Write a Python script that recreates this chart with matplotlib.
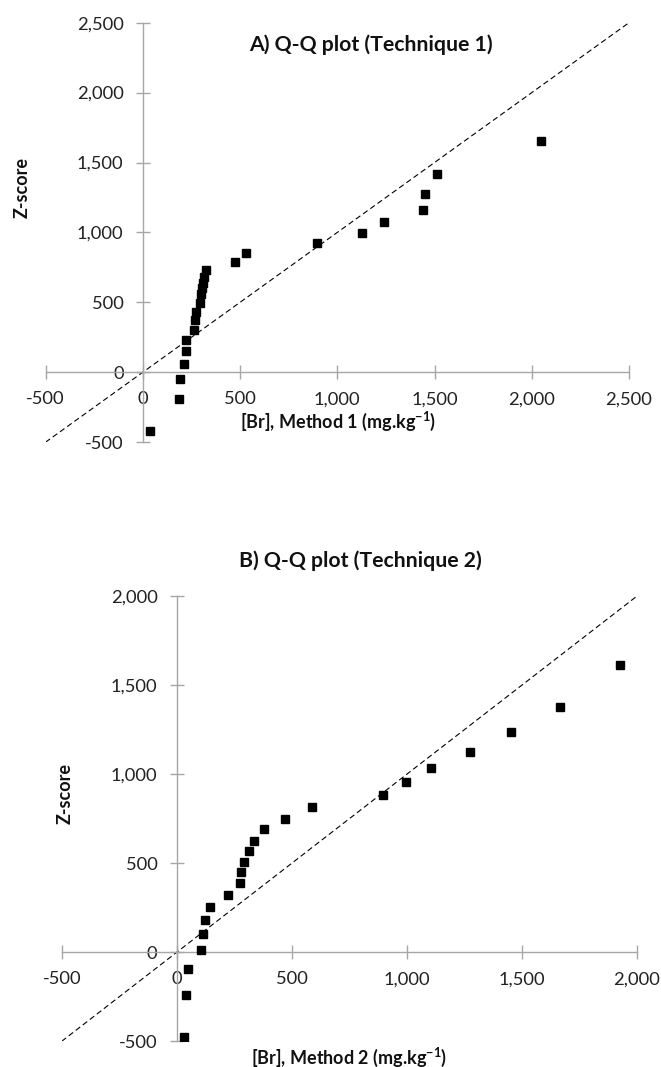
import matplotlib
matplotlib.use("Agg")
import matplotlib.pyplot as plt
from matplotlib.ticker import FuncFormatter, MultipleLocator

plt.rcParams['font.family'] = ['Lato', 'DejaVu Sans']
plt.rcParams['mathtext.fontset'] = 'custom'
plt.rcParams['mathtext.rm'] = 'Lato'
plt.rcParams['mathtext.bf'] = 'Lato:bold'

# Panel A data: [Br] Method 1 vs Z-score
a_x = [2046, 1512, 1452, 1443, 1239, 1128, 898, 531, 475,
       325, 315, 312, 306, 301, 293, 276, 271, 262,
       223, 221, 214, 192, 187, 38]
a_y = [1651, 1416, 1273, 1163, 1072, 995, 921, 856, 787,
       733, 681, 638, 602, 562, 495, 433, 371, 305,
       233, 150, 60, -48, -188, -421]

# Panel B data: [Br] Method 2 vs Z-score
b_x = [1926, 1665, 1454, 1276, 1107, 998, 899, 590, 471, 379, 338, 316,
       292, 278, 274, 221, 143, 125, 116, 105, 50, 42, 31]
b_y = [1614, 1378, 1235, 1125, 1037, 956, 885, 815, 750, 690, 628, 568,
       510, 450, 390, 324, 257, 182, 103, 11, -96, -242, -476]

a_lim = (-500, 2500)
b_lim = (-500, 2000)
tick_step = 500

title_a = "A) Q-Q plot (Technique 1)"
title_b = "B) Q-Q plot (Technique 2)"
xlabel_a = r"[Br], Method 1 (mg.kg$^{\mathbf{-1}}$)"
xlabel_b = r"[Br], Method 2 (mg.kg$^{\mathbf{-1}}$)"
ylabel = "Z-score"

W, H = 661, 1067
fig = plt.figure(figsize=(W / 100, H / 100), dpi=100)

def px_axes(left, right, top, bottom):
    return fig.add_axes([left / W, 1 - bottom / H, (right - left) / W, (bottom - top) / H])

axA = px_axes(45.5, 629, 22.7, 442.2)
axB = px_axes(61.7, 636.7, 596.3, 1041.3)

axis_color = '#A6A6A6'
fmt = FuncFormatter(lambda v, p: f"{v:,.0f}")

def style(ax, lim):
    ax.set_xlim(*lim)
    ax.set_ylim(*lim)
    ax.spines['top'].set_visible(False)
    ax.spines['right'].set_visible(False)
    for s in ('left', 'bottom'):
        ax.spines[s].set_position(('data', 0))
        ax.spines[s].set_color(axis_color)
        ax.spines[s].set_linewidth(1.0)
    ax.xaxis.set_major_locator(MultipleLocator(tick_step))
    ax.yaxis.set_major_locator(MultipleLocator(tick_step))
    ax.xaxis.set_major_formatter(fmt)
    ax.yaxis.set_major_formatter(fmt)
    ax.tick_params(direction='inout', length=9.5, width=1.0, color=axis_color,
                   labelsize=13.2, labelcolor='#222222', pad=9)
    ax.patch.set_alpha(0)
    ax.axline((0, 0), slope=1, color='black', lw=0.8, ls=(0, (5, 3)), zorder=2)

style(axA, a_lim)
style(axB, b_lim)

axA.plot(a_x, a_y, ls='none', marker='s', ms=5.8, color='black', zorder=3)
axB.plot(b_x, b_y, ls='none', marker='s', ms=5.8, color='black', zorder=3)

tkw = dict(fontsize=15.3, fontweight='bold', ha='center', va='center', color='#111111')
fig.text(371 / W, 1 - 44.5 / H, title_a, **tkw)
fig.text(360 / W, 1 - 561 / H, title_b, **tkw)

lkw = dict(fontsize=13, fontweight='bold', ha='center', va='center', color='#111111')
fig.text(338 / W, 1 - 421 / H, xlabel_a, **lkw)
fig.text(349 / W, 1 - 1057 / H, xlabel_b, **lkw)
fig.text(22 / W, 1 - 187 / H, ylabel, rotation=90, **lkw)
fig.text(65 / W, 1 - 793 / H, ylabel, rotation=90, **lkw)

fig.savefig("out.png", dpi=100)
